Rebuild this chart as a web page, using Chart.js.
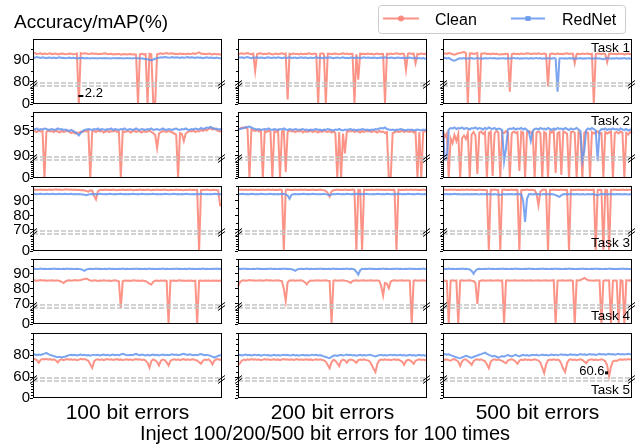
<!DOCTYPE html>
<html>
<head>
<meta charset="utf-8">
<script src="https://cdn.jsdelivr.net/npm/chart.js@4.4.1/dist/chart.umd.min.js"></script>
<style>
  body { margin: 0; background: #fff; }
  #page { position: relative; width: 643px; height: 445px; overflow: hidden; background: #fff; }
  #page canvas { position: absolute; }
  #overlay { position: absolute; left: 0; top: 0; }
</style>
</head>
<body>
<div id="page">
  <svg id="overlay" width="643" height="445" xmlns="http://www.w3.org/2000/svg"></svg>
</div>
<script>
// ---- data: accuracy per injection run (100 runs per cell) ----
const seriesNames = ["Clean", "RedNet"];
const tasks = ["Task 1", "Task 2", "Task 3", "Task 4", "Task 5"];
const errorLabels = ["100 bit errors", "200 bit errors", "500 bit errors"];
const titleText = "Accuracy/mAP(%)";
const bottomText = "Inject 100/200/500 bit errors for 100 times";

const clean_t1_100 = [
  92.9, 93.1, 92.7, 92.8, 93.0, 92.6, 92.9, 92.7, 92.8, 93.0,
  92.6, 92.8, 92.9, 92.5, 92.7, 92.9, 92.8, 92.6, 92.7, 92.9,
  92.8, 92.6, 92.7, 92.9, 2.2, 93.1, 92.8, 93.0, 92.9, 92.7,
  92.8, 93.0, 92.7, 92.9, 92.6, 92.8, 92.7, 92.9, 93.0, 92.6,
  92.7, 92.8, 92.5, 92.7, 92.6, 92.8, 92.4, 92.6, 92.7, 92.5,
  92.6, 92.7, 92.5, 92.6, 92.4, 0.0, 92.6, 92.8, 92.5, 92.7,
  0.0, 92.8, 92.6, 1.0, 0.0, 92.6, 92.8, 93.0, 92.7, 92.9,
  93.1, 92.8, 92.9, 93.0, 92.7, 92.8, 92.6, 92.9, 92.7, 92.8,
  92.6, 92.9, 92.7, 92.8, 93.0, 92.7, 93.1, 93.4, 92.9, 92.7,
  92.8, 92.6, 92.9, 92.7, 92.5, 92.8, 92.6, 92.7, 92.5, 92.6];
const rednet_t1_100 = [
  91.2, 91.0, 91.3, 91.1, 90.9, 91.2, 91.0, 90.8, 91.1, 91.0,
  90.9, 91.1, 90.8, 91.0, 91.2, 90.9, 91.0, 90.8, 90.9, 91.1,
  90.8, 91.0, 90.9, 90.7, 90.9, 90.8, 91.0, 90.7, 90.9, 90.8,
  90.6, 90.9, 90.7, 90.8, 90.6, 90.9, 90.7, 90.8, 90.9, 90.7,
  90.8, 90.6, 90.9, 90.7, 90.8, 90.9, 90.7, 90.8, 90.6, 90.9,
  90.7, 90.8, 90.6, 90.9, 90.7, 90.8, 90.6, 90.7, 90.5, 90.4,
  90.3, 90.1, 89.9, 90.2, 90.5, 90.8, 91.0, 91.2, 91.1, 91.3,
  91.2, 91.0, 91.1, 91.3, 91.0, 91.2, 91.1, 90.9, 91.2, 91.0,
  91.1, 91.3, 91.0, 91.2, 91.1, 90.9, 91.2, 91.0, 91.1, 90.8,
  91.0, 91.2, 90.9, 91.1, 91.0, 90.8, 91.1, 90.9, 90.7, 90.8];
const clean_t1_200 = [
  92.4, 92.8, 93.0, 92.7, 92.9, 93.1, 92.8, 92.6, 92.9, 85.0,
  92.7, 92.9, 93.0, 92.6, 92.8, 92.7, 93.0, 92.8, 92.5, 92.7,
  92.9, 92.6, 92.8, 93.0, 92.7, 92.9, 20.0, 92.8, 92.6, 92.9,
  92.7, 92.8, 92.5, 92.9, 92.6, 92.8, 92.7, 93.0, 92.8, 92.6,
  92.9, 92.7, 0.0, 92.8, 93.0, 92.7, 0.0, 92.9, 92.8, 92.6,
  92.8, 92.9, 92.7, 92.6, 92.8, 93.0, 92.7, 92.9, 92.6, 92.8,
  92.7, 5.0, 92.6, 81.0, 92.9, 92.7, 92.8, 92.6, 92.9, 92.7,
  92.8, 92.5, 92.7, 92.9, 92.6, 92.8, 92.7, 4.0, 92.8, 92.6,
  92.9, 92.7, 92.8, 93.0, 92.8, 92.6, 92.9, 92.7, 85.5, 92.8,
  93.0, 92.7, 92.9, 88.5, 92.8, 92.6, 92.9, 92.7, 92.8, 92.6];
const rednet_t1_200 = [
  91.3, 91.0, 91.2, 90.9, 91.1, 91.3, 91.0, 90.8, 91.1, 91.0,
  91.2, 90.9, 91.1, 91.0, 90.8, 91.1, 91.2, 90.9, 91.0, 91.1,
  90.9, 91.2, 91.0, 90.8, 91.1, 90.9, 91.0, 91.2, 90.9, 91.0,
  91.1, 90.8, 91.0, 91.2, 90.9, 91.1, 91.0, 90.8, 91.1, 90.9,
  91.0, 91.2, 90.9, 91.1, 90.8, 91.0, 91.1, 90.9, 91.2, 91.0,
  90.8, 91.0, 91.1, 90.9, 91.0, 91.2, 90.9, 91.0, 90.8, 91.1,
  91.0, 90.9, 91.1, 91.0, 90.8, 91.0, 91.2, 90.9, 91.1, 91.0,
  90.9, 91.1, 91.0, 90.8, 91.0, 91.1, 90.9, 91.2, 91.0, 90.9,
  91.1, 91.0, 90.8, 91.0, 91.1, 90.9, 91.0, 90.8, 91.0, 90.9,
  91.1, 90.9, 90.8, 91.0, 90.7, 90.9, 90.6, 90.8, 90.5, 90.6];
const clean_t1_500 = [
  92.8, 93.0, 92.7, 93.1, 92.9, 92.6, 92.4, 92.7, 93.0, 93.2,
  93.4, 93.6, 93.1, 0.0, 92.9, 93.0, 92.7, 92.9, 93.1, 0.0,
  92.8, 92.9, 93.0, 92.7, 92.8, 92.6, 92.9, 92.7, 92.8, 92.6,
  92.5, 92.7, 92.6, 92.8, 92.7, 54.0, 92.6, 92.9, 92.7, 92.8,
  92.6, 92.9, 92.7, 92.8, 93.0, 92.9, 92.7, 92.8, 92.9, 92.7,
  93.0, 92.8, 92.7, 92.9, 92.6, 78.0, 92.7, 92.9, 92.8, 92.6,
  92.9, 92.7, 92.8, 92.6, 92.9, 93.0, 92.7, 92.8, 92.9, 88.5,
  92.7, 92.8, 92.6, 92.9, 92.7, 92.8, 92.9, 92.6, 92.8, 0.0,
  92.7, 92.9, 92.8, 92.6, 92.9, 92.7, 89.0, 92.8, 92.9, 92.7,
  92.8, 92.6, 92.9, 92.7, 92.8, 92.5, 92.7, 92.9, 92.6, 92.8];
const rednet_t1_500 = [
  90.8, 91.0, 90.7, 90.9, 90.4, 89.8, 89.6, 90.0, 90.5, 90.7,
  90.6, 90.8, 90.5, 90.7, 90.6, 90.8, 90.5, 90.7, 90.9, 90.6,
  90.7, 90.5, 90.8, 90.6, 90.7, 90.9, 90.6, 90.8, 90.5, 90.7,
  90.6, 90.8, 90.7, 90.5, 90.8, 90.6, 90.7, 90.9, 90.6, 90.8,
  90.5, 90.7, 90.6, 90.8, 90.7, 90.5, 90.8, 90.6, 90.7, 90.9,
  90.6, 90.8, 90.5, 90.7, 90.6, 90.8, 90.7, 90.5, 90.8, 90.6,
  54.0, 90.7, 90.8, 90.6, 90.7, 90.5, 90.8, 90.6, 90.7, 90.4,
  90.7, 90.6, 90.8, 90.5, 90.7, 90.6, 90.8, 90.7, 90.5, 90.6,
  90.8, 90.6, 90.7, 90.5, 90.3, 90.6, 90.8, 90.7, 90.5, 90.7,
  90.6, 90.8, 90.5, 90.7, 90.6, 90.8, 90.5, 90.7, 90.6, 90.4];

const clean_t2_100 = [
  94.9, 95.0, 94.8, 95.1, 94.9, 95.0, 0.0, 94.8, 95.1, 94.9,
  95.0, 94.8, 95.1, 94.9, 94.7, 95.0, 94.8, 94.9, 95.1, 94.8,
  94.6, 94.8, 94.5, 94.7, 94.6, 94.9, 94.8, 95.0, 94.9, 95.1,
  0.0, 94.9, 95.0, 94.8, 95.1, 94.9, 95.0, 94.7, 94.9, 95.0,
  94.8, 95.0, 94.9, 95.1, 94.8, 94.9, 0.0, 95.0, 94.8, 94.9,
  95.0, 94.7, 94.9, 95.1, 94.8, 95.0, 94.9, 94.7, 95.0, 94.8,
  94.9, 95.1, 94.8, 94.6, 94.2, 91.6, 94.5, 94.8, 95.0, 94.9,
  94.8, 95.0, 94.9, 94.7, 94.5, 94.3, 0.0, 94.6, 94.4, 93.0,
  94.5, 94.8, 95.0, 94.9, 95.1, 94.8, 95.0, 94.9, 95.2, 95.0,
  95.3, 95.1, 95.4, 95.6, 95.3, 95.5, 95.2, 95.0, 94.9, 95.1];
const rednet_t2_100 = [
  95.4, 95.3, 95.5, 95.2, 95.4, 95.3, 95.5, 95.4, 95.2, 95.3,
  95.4, 95.2, 95.3, 95.5, 95.3, 95.4, 95.2, 95.3, 95.1, 95.0,
  95.2, 95.0, 94.8, 94.5, 94.1, 94.6, 95.0, 95.2, 95.3, 95.4,
  95.3, 95.2, 95.4, 95.3, 95.5, 95.2, 95.4, 95.3, 95.2, 95.4,
  95.3, 95.5, 95.2, 95.4, 95.3, 95.2, 95.4, 95.3, 95.5, 95.2,
  95.3, 95.4, 95.2, 95.3, 95.5, 95.3, 95.2, 95.4, 95.3, 95.2,
  95.4, 95.3, 95.5, 95.2, 95.3, 95.4, 95.2, 95.3, 95.5, 95.3,
  95.2, 95.4, 95.3, 95.2, 95.4, 95.5, 95.3, 95.2, 95.4, 95.3,
  95.5, 95.3, 95.2, 95.4, 95.3, 95.5, 95.4, 95.3, 95.6, 95.4,
  95.5, 95.7, 95.6, 95.8, 95.6, 95.4, 95.5, 95.3, 95.4, 95.2];
const clean_t2_200 = [
  95.2, 95.5, 95.7, 95.6, 95.8, 95.4, 0.0, 95.3, 95.1, 95.0,
  95.2, 94.9, 95.1, 0.0, 95.0, 94.8, 95.1, 94.9, 0.0, 95.0,
  94.8, 95.1, 0.0, 94.9, 95.0, 30.0, 94.8, 95.1, 94.9, 95.0,
  94.8, 95.0, 94.9, 95.1, 94.7, 95.0, 94.8, 94.9, 95.1, 94.8,
  95.0, 94.9, 94.7, 95.0, 94.8, 95.1, 94.9, 94.8, 95.0, 94.7,
  94.9, 94.6, 0.0, 94.8, 0.0, 94.5, 90.5, 94.8, 95.0, 94.9,
  95.1, 94.8, 95.0, 94.9, 94.7, 95.0, 94.8, 95.1, 94.9, 95.0,
  94.8, 95.0, 94.9, 94.7, 95.0, 94.8, 94.9, 94.6, 94.8, 0.0,
  0.0, 94.6, 94.7, 95.0, 94.8, 94.9, 95.1, 94.8, 95.0, 94.9,
  94.8, 95.0, 94.7, 94.9, 0.0, 94.8, 0.0, 94.9, 95.0, 94.8];
const rednet_t2_200 = [
  95.3, 95.4, 95.5, 95.6, 95.7, 95.8, 95.9, 95.7, 95.5, 95.4,
  95.3, 95.4, 95.2, 95.3, 95.4, 95.3, 95.5, 95.3, 95.2, 95.4,
  95.3, 95.2, 95.4, 95.3, 95.5, 95.3, 95.2, 95.4, 95.3, 95.2,
  95.4, 95.3, 95.2, 95.3, 95.4, 95.2, 95.3, 95.1, 95.3, 95.2,
  95.3, 95.4, 95.2, 95.3, 95.1, 95.3, 95.2, 95.4, 95.3, 95.2,
  95.1, 95.3, 95.2, 95.4, 95.2, 95.1, 95.3, 95.2, 95.3, 95.4,
  95.2, 95.3, 95.1, 95.3, 95.2, 95.4, 95.3, 95.2, 95.3, 95.1,
  95.3, 95.2, 95.4, 95.3, 95.5, 95.6, 95.5, 95.7, 95.4, 95.3,
  95.2, 95.3, 95.1, 95.3, 95.2, 95.4, 95.3, 95.2, 95.1, 95.3,
  95.2, 95.3, 95.1, 95.2, 95.3, 95.2, 95.1, 95.3, 95.2, 95.3];
const clean_t2_500 = [
  95.0, 93.8, 94.5, 0.0, 93.5, 92.6, 94.2, 93.0, 94.4, 0.0,
  93.6, 94.1, 93.4, 94.6, 0.0, 94.3, 94.8, 94.1, 20.0, 94.7,
  94.9, 94.4, 94.8, 0.0, 94.6, 94.9, 10.0, 94.5, 95.0, 94.7,
  0.0, 94.8, 94.6, 95.0, 94.7, 0.0, 94.5, 94.9, 94.6, 94.8,
  35.0, 94.9, 94.7, 0.0, 94.8, 95.0, 94.6, 94.9, 0.0, 94.7,
  94.9, 94.6, 0.0, 94.8, 94.5, 0.0, 94.9, 94.7, 95.0, 25.0,
  94.6, 94.8, 15.0, 94.9, 94.7, 94.5, 0.0, 94.8, 94.9, 94.6,
  0.0, 94.8, 94.5, 0.0, 94.7, 94.9, 94.6, 0.0, 94.8, 94.5,
  94.7, 94.9, 94.4, 94.6, 5.0, 94.8, 94.5, 94.7, 94.9, 0.0,
  94.6, 94.8, 94.5, 94.9, 94.7, 0.0, 94.6, 94.3, 94.8, 94.5];
const rednet_t2_500 = [
  95.2, 89.5, 89.6, 95.3, 95.6, 95.5, 95.7, 95.4, 95.6, 95.5,
  95.7, 95.4, 95.6, 95.5, 95.3, 95.6, 95.5, 95.7, 95.4, 95.6,
  95.5, 95.3, 95.6, 95.4, 95.7, 95.5, 95.4, 95.6, 95.3, 95.5,
  95.4, 95.2, 83.0, 91.5, 95.3, 95.5, 95.4, 95.6, 95.3, 95.5,
  95.4, 95.6, 95.3, 95.5, 95.2, 94.8, 93.0, 95.0, 95.4, 95.5,
  95.3, 95.6, 95.4, 95.5, 95.3, 95.6, 95.4, 95.2, 95.5, 95.3,
  95.6, 95.4, 95.5, 95.3, 95.6, 95.4, 95.2, 95.5, 95.3, 95.4,
  95.6, 95.3, 95.0, 86.5, 91.0, 95.2, 95.5, 95.3, 95.6, 95.4,
  95.1, 83.5, 95.0, 95.4, 95.3, 95.5, 95.2, 95.4, 95.3, 95.5,
  95.3, 95.4, 95.2, 95.5, 95.3, 95.2, 95.4, 95.1, 95.3, 95.2];

const clean_t3_100 = [
  97.6, 97.8, 97.5, 97.7, 97.9, 97.6, 97.8, 97.5, 97.7, 97.9,
  97.6, 97.8, 98.0, 97.7, 97.9, 97.6, 97.8, 98.1, 97.9, 97.7,
  97.9, 97.6, 97.8, 97.5, 97.7, 97.4, 97.6, 97.2, 96.8, 96.4,
  97.4, 97.2, 93.5, 91.0, 96.8, 97.5, 97.7, 97.5, 97.8, 97.6,
  97.7, 97.5, 97.8, 97.6, 97.4, 97.7, 97.5, 97.8, 97.6, 97.7,
  97.5, 97.8, 97.6, 97.4, 97.7, 97.5, 97.8, 97.6, 97.7, 97.5,
  97.8, 97.6, 97.4, 97.7, 97.5, 97.8, 97.6, 97.7, 97.5, 97.8,
  97.6, 97.4, 97.7, 97.5, 97.6, 97.8, 97.5, 97.7, 97.6, 97.4,
  97.7, 97.5, 97.8, 97.6, 97.7, 97.5, 97.6, 0.0, 97.5, 97.7,
  97.5, 97.8, 97.6, 97.4, 97.7, 97.5, 97.6, 97.3, 87.0, 86.8];
const rednet_t3_100 = [
  94.8, 94.9, 94.7, 94.8, 95.0, 94.8, 94.7, 94.9, 94.8, 94.7,
  94.9, 94.8, 94.6, 94.8, 94.9, 94.7, 94.8, 94.9, 94.7, 94.8,
  94.9, 94.7, 94.8, 94.6, 94.8, 94.7, 94.5, 94.3, 94.0, 94.4,
  94.7, 94.8, 94.6, 94.8, 94.7, 94.9, 94.8, 94.6, 94.8, 94.7,
  94.9, 94.8, 94.7, 94.8, 94.6, 94.8, 94.9, 94.7, 94.8, 94.6,
  94.8, 94.7, 94.9, 94.8, 94.6, 94.8, 94.7, 94.9, 94.8, 94.7,
  94.8, 94.6, 94.8, 94.9, 94.7, 94.8, 94.6, 94.8, 94.7, 94.9,
  94.8, 94.7, 94.6, 94.8, 94.9, 94.7, 94.8, 94.6, 94.8, 94.7,
  94.9, 94.8, 94.6, 94.7, 94.8, 94.6, 94.8, 94.7, 94.9, 94.8,
  94.7, 94.8, 94.6, 94.8, 94.7, 94.9, 94.8, 94.6, 94.7, 94.8];
const clean_t3_200 = [
  97.5, 97.7, 97.9, 97.6, 97.8, 97.5, 97.7, 97.9, 97.6, 97.8,
  97.5, 97.7, 97.6, 97.8, 97.5, 97.7, 97.9, 97.6, 97.8, 97.5,
  97.7, 97.6, 97.8, 97.5, 0.0, 97.6, 97.8, 97.5, 97.7, 97.6,
  97.8, 97.5, 97.7, 97.9, 97.6, 97.8, 97.5, 97.7, 97.6, 97.8,
  97.5, 97.7, 97.6, 97.8, 97.5, 97.3, 97.0, 95.5, 93.0, 96.5,
  97.4, 97.6, 97.8, 97.5, 97.7, 97.6, 97.8, 97.5, 97.7, 97.6,
  97.8, 97.5, 0.0, 97.7, 97.6, 0.0, 97.8, 97.5, 97.7, 97.6,
  97.8, 97.5, 97.7, 97.9, 97.6, 97.8, 97.5, 97.7, 97.6, 97.8,
  97.5, 97.7, 97.6, 0.0, 97.8, 97.5, 97.7, 97.6, 97.8, 97.5,
  97.7, 97.9, 97.6, 97.8, 97.5, 97.7, 97.6, 97.8, 97.5, 97.7];
const rednet_t3_200 = [
  94.8, 94.7, 94.9, 94.8, 94.6, 94.8, 94.7, 94.9, 94.8, 94.6,
  94.8, 94.7, 94.9, 94.8, 94.7, 94.6, 94.8, 94.9, 94.7, 94.8,
  94.6, 94.8, 94.7, 94.9, 94.8, 94.5, 93.8, 91.5, 94.2, 94.7,
  94.8, 94.6, 94.8, 94.7, 94.9, 94.8, 94.6, 94.8, 94.7, 94.9,
  94.8, 94.7, 94.6, 94.8, 94.7, 94.9, 94.6, 94.4, 94.0, 94.5,
  94.8, 94.7, 94.9, 94.8, 94.6, 94.8, 94.7, 94.9, 94.8, 94.6,
  94.8, 94.7, 94.9, 94.8, 94.6, 94.8, 94.7, 94.9, 94.8, 94.7,
  94.6, 94.8, 94.7, 94.9, 94.8, 94.6, 94.8, 94.7, 94.9, 94.8,
  94.7, 94.6, 94.8, 94.7, 94.9, 94.8, 94.6, 94.8, 94.7, 94.9,
  94.8, 94.6, 94.8, 94.7, 94.9, 94.8, 94.7, 94.6, 94.8, 94.7];
const clean_t3_500 = [
  97.6, 97.8, 97.5, 97.7, 97.9, 97.6, 97.8, 97.5, 97.7, 97.6,
  97.8, 97.5, 97.7, 97.9, 97.6, 97.8, 97.5, 97.7, 97.6, 97.8,
  97.5, 97.7, 97.6, 97.4, 0.0, 97.7, 97.5, 97.8, 97.6, 97.4,
  0.0, 97.6, 97.8, 97.5, 97.7, 97.6, 97.8, 97.5, 97.7, 97.6,
  0.0, 97.5, 97.7, 97.6, 97.8, 97.5, 97.7, 97.6, 97.4, 95.0,
  87.0, 96.5, 97.6, 97.8, 97.5, 0.0, 97.7, 97.6, 97.8, 97.5,
  97.7, 97.6, 97.8, 97.5, 97.7, 97.6, 0.0, 97.8, 97.5, 97.7,
  97.6, 97.8, 97.5, 97.7, 97.6, 97.8, 97.5, 97.7, 97.6, 97.8,
  0.0, 97.5, 97.7, 97.6, 0.0, 97.8, 97.5, 0.0, 97.7, 97.6,
  97.8, 97.5, 97.7, 97.6, 97.8, 97.5, 97.7, 97.6, 97.8, 97.5];
const rednet_t3_500 = [
  94.9, 94.7, 94.8, 94.6, 94.8, 94.7, 94.9, 94.6, 94.8, 94.7,
  94.5, 94.7, 94.6, 94.8, 94.5, 94.7, 94.6, 94.8, 94.7, 94.5,
  94.7, 94.6, 94.8, 94.5, 94.7, 94.6, 94.4, 94.7, 94.5, 94.6,
  94.2, 94.6, 94.8, 94.5, 94.7, 94.6, 94.8, 94.5, 94.7, 94.6,
  94.8, 94.5, 90.0, 75.5, 91.5, 94.6, 94.7, 94.5, 94.8, 94.6,
  94.7, 94.5, 94.6, 94.8, 94.5, 94.7, 94.6, 94.8, 94.5, 94.0,
  93.4, 92.8, 94.0, 94.6, 94.8, 94.5, 94.7, 94.6, 94.8, 94.5,
  94.7, 94.6, 94.4, 94.7, 94.5, 94.6, 94.8, 94.5, 94.7, 94.6,
  94.3, 94.0, 94.5, 94.7, 94.6, 94.8, 94.5, 94.7, 94.6, 94.8,
  94.5, 94.7, 94.6, 94.8, 94.5, 94.7, 94.6, 94.4, 94.6, 94.7];

const clean_t4_100 = [
  85.6, 85.8, 85.5, 85.7, 85.9, 85.6, 85.8, 85.5, 85.7, 85.6,
  85.8, 85.5, 85.7, 85.6, 85.3, 84.8, 84.0, 85.0, 85.6, 85.8,
  85.5, 85.7, 85.9, 85.6, 85.8, 86.0, 86.3, 86.6, 87.0, 86.2,
  85.7, 85.5, 85.8, 85.6, 85.4, 85.7, 85.5, 85.8, 85.6, 85.5,
  85.7, 85.4, 85.6, 85.8, 85.5, 85.0, 69.0, 85.2, 85.6, 85.5,
  85.7, 85.4, 85.6, 85.8, 85.5, 85.7, 85.4, 85.6, 85.5, 85.2,
  84.5, 83.5, 83.0, 84.8, 85.5, 85.7, 85.4, 85.6, 85.5, 85.7,
  85.4, 0.0, 85.6, 85.5, 85.7, 85.4, 85.6, 85.8, 85.5, 85.7,
  85.4, 85.6, 85.5, 85.7, 85.4, 85.6, 0.0, 85.5, 85.7, 85.4,
  85.6, 85.5, 85.7, 85.4, 85.6, 85.5, 85.7, 85.4, 85.6, 85.5];
const rednet_t4_100 = [
  93.4, 93.5, 93.3, 93.4, 93.6, 93.3, 93.5, 93.4, 93.3, 93.5,
  93.4, 93.6, 93.3, 93.5, 93.4, 93.3, 93.5, 93.4, 93.6, 93.3,
  93.5, 93.4, 93.3, 93.5, 93.4, 93.2, 92.7, 92.1, 93.0, 93.4,
  93.5, 93.3, 93.4, 93.6, 93.3, 93.5, 93.4, 93.3, 93.5, 93.4,
  93.6, 93.3, 93.5, 93.4, 93.3, 93.5, 93.4, 93.6, 93.3, 93.5,
  93.4, 93.3, 93.5, 93.4, 93.6, 93.3, 93.5, 93.4, 93.3, 93.5,
  93.4, 93.6, 93.3, 93.5, 93.4, 93.3, 93.5, 93.4, 93.6, 93.3,
  93.5, 93.4, 93.3, 93.5, 93.4, 93.6, 93.3, 93.5, 93.4, 93.3,
  93.5, 93.4, 93.6, 93.3, 93.5, 93.4, 93.3, 93.5, 93.4, 93.6,
  93.3, 93.5, 93.4, 93.3, 93.5, 93.4, 93.6, 93.3, 93.5, 93.4];
const clean_t4_200 = [
  81.5, 84.5, 85.6, 85.8, 85.5, 85.7, 85.9, 85.6, 85.8, 85.5,
  85.7, 85.6, 85.8, 85.5, 85.7, 85.9, 85.6, 85.8, 85.5, 85.7,
  85.6, 85.8, 85.5, 85.3, 80.0, 72.0, 84.5, 85.7, 85.6, 85.8,
  85.5, 85.7, 85.6, 85.8, 85.4, 84.5, 83.0, 84.8, 85.6, 85.5,
  85.7, 85.6, 85.8, 85.5, 85.7, 85.6, 85.8, 85.5, 85.4, 0.0,
  85.6, 85.8, 85.5, 85.7, 85.6, 85.8, 85.5, 85.4, 84.8, 84.0,
  85.3, 85.6, 85.8, 85.5, 85.7, 85.6, 85.8, 85.5, 85.7, 85.6,
  85.8, 85.5, 85.7, 85.6, 85.4, 82.0, 75.5, 84.0, 83.5, 80.5,
  85.0, 85.6, 85.8, 85.5, 85.7, 85.6, 85.8, 85.5, 85.7, 85.6,
  85.5, 0.0, 85.6, 85.8, 85.5, 85.7, 85.6, 85.8, 85.5, 85.7];
const rednet_t4_200 = [
  93.3, 93.5, 93.4, 93.6, 93.3, 93.5, 93.4, 93.3, 93.5, 93.4,
  93.6, 93.3, 93.5, 93.4, 93.3, 93.5, 93.4, 93.6, 93.3, 93.5,
  93.4, 93.3, 93.5, 93.4, 93.6, 93.3, 93.5, 93.4, 93.2, 92.8,
  92.1, 93.0, 93.4, 93.5, 93.3, 93.4, 93.6, 93.3, 93.5, 93.4,
  93.3, 93.5, 93.4, 93.6, 93.3, 93.5, 93.4, 93.3, 93.5, 93.4,
  93.6, 93.3, 93.5, 93.4, 93.3, 93.5, 93.4, 93.6, 93.3, 93.5,
  93.4, 93.0, 91.5, 89.5, 92.5, 93.4, 93.3, 93.5, 93.4, 93.6,
  93.3, 93.5, 93.4, 93.3, 93.5, 93.4, 93.6, 93.3, 93.5, 93.4,
  93.3, 93.5, 93.4, 93.6, 93.3, 93.5, 93.4, 93.3, 93.5, 93.4,
  93.6, 93.3, 93.5, 93.4, 93.3, 93.5, 93.4, 93.6, 93.3, 93.5];
const clean_t4_500 = [
  85.5, 85.7, 85.4, 0.0, 85.6, 85.8, 85.5, 85.7, 0.0, 85.6,
  85.8, 85.5, 85.7, 85.6, 85.8, 85.5, 85.3, 84.0, 70.0, 85.2,
  85.6, 85.8, 85.5, 85.7, 85.6, 85.8, 85.5, 85.7, 85.6, 85.8,
  85.5, 85.7, 0.0, 85.6, 85.8, 85.5, 85.7, 85.6, 85.8, 85.5,
  85.7, 85.6, 85.8, 85.5, 85.7, 85.6, 85.8, 85.5, 85.7, 85.6,
  85.8, 85.5, 85.7, 85.6, 85.8, 85.5, 85.7, 85.6, 85.8, 0.0,
  85.5, 85.7, 85.6, 85.8, 85.5, 85.7, 85.6, 85.8, 85.5, 0.0,
  85.7, 85.6, 86.0, 86.5, 87.4, 86.6, 85.8, 85.6, 85.7, 85.5,
  85.8, 85.6, 85.7, 0.0, 85.5, 85.8, 85.6, 85.7, 0.0, 85.5,
  85.7, 85.6, 0.0, 85.8, 85.5, 0.0, 85.7, 85.6, 85.8, 85.5];
const rednet_t4_500 = [
  93.5, 93.3, 93.4, 93.6, 93.3, 93.5, 93.4, 93.3, 93.5, 93.4,
  93.6, 93.3, 93.5, 93.4, 93.0, 92.0, 90.2, 92.2, 93.2, 93.5,
  93.4, 93.3, 93.5, 93.4, 93.6, 93.3, 93.5, 93.4, 93.3, 93.5,
  93.4, 93.6, 93.3, 93.5, 93.4, 93.3, 93.5, 93.4, 93.6, 93.3,
  93.5, 93.4, 93.3, 93.5, 93.4, 93.6, 93.3, 93.5, 93.4, 93.3,
  93.5, 93.4, 93.6, 93.3, 93.5, 93.4, 93.3, 93.5, 93.4, 93.6,
  93.3, 93.5, 93.4, 93.3, 93.5, 93.4, 93.6, 93.3, 93.5, 93.4,
  93.3, 93.5, 93.4, 93.6, 93.3, 93.5, 93.4, 93.3, 93.5, 93.4,
  93.6, 93.3, 93.5, 93.4, 93.3, 93.5, 93.4, 93.6, 93.3, 93.5,
  93.4, 93.3, 93.5, 93.4, 93.6, 93.3, 93.5, 93.4, 93.3, 93.2];

const clean_t5_100 = [
  76.8, 76.2, 75.4, 73.0, 75.6, 76.4, 75.9, 76.6, 75.8, 76.3,
  75.5, 76.1, 75.0, 73.2, 75.4, 76.0, 75.3, 75.9, 76.4, 75.7,
  76.2, 75.5, 76.0, 75.2, 75.8, 76.5, 75.9, 76.3, 75.6, 74.8,
  71.5, 68.2, 74.0, 75.8, 76.2, 75.5, 76.0, 75.3, 75.9, 76.4,
  75.7, 76.1, 75.4, 75.9, 76.3, 75.6, 76.0, 75.2, 75.8, 76.2,
  75.5, 76.0, 75.3, 75.9, 76.4, 75.7, 76.1, 75.4, 75.8, 75.0,
  73.0, 68.5, 74.5, 75.9, 75.2, 73.5, 70.5, 74.8, 75.9, 75.3,
  73.4, 70.5, 74.6, 75.8, 76.2, 75.5, 76.0, 75.3, 75.9, 76.3,
  75.6, 76.1, 75.4, 75.9, 76.2, 75.5, 75.0, 73.5, 72.0, 74.8,
  75.9, 75.4, 76.0, 74.5, 71.5, 74.8, 75.9, 76.3, 75.6, 76.0];
const rednet_t5_100 = [
  80.2, 80.6, 79.8, 80.4, 80.0, 80.7, 81.2, 82.0, 80.8, 80.1,
  79.6, 79.0, 78.4, 78.0, 78.3, 77.8, 78.2, 78.6, 79.3, 79.9,
  80.2, 79.7, 80.1, 79.5, 80.0, 80.4, 79.8, 80.2, 79.6, 80.0,
  79.4, 79.9, 80.3, 79.7, 80.1, 79.5, 80.0, 80.4, 79.8, 80.2,
  79.6, 80.0, 80.5, 79.9, 80.3, 79.7, 80.6, 81.0, 80.4, 80.0,
  79.7, 80.2, 79.8, 80.5, 81.0, 80.3, 79.9, 80.4, 80.0, 79.6,
  80.1, 79.5, 80.0, 80.4, 79.8, 80.2, 79.6, 80.1, 80.5, 79.9,
  80.3, 79.8, 80.2, 80.6, 80.0, 80.4, 79.8, 80.2, 80.7, 81.1,
  80.5, 80.1, 80.6, 80.2, 79.8, 80.3, 79.9, 80.4, 80.8, 80.2,
  79.8, 80.3, 79.7, 79.2, 78.6, 77.6, 78.4, 79.3, 79.8, 79.5];
const clean_t5_200 = [
  71.0, 72.5, 74.8, 75.9, 75.3, 76.1, 75.6, 76.4, 75.8, 76.2,
  75.5, 76.0, 75.2, 75.8, 76.3, 75.7, 76.1, 75.4, 75.9, 76.2,
  75.6, 76.0, 75.3, 75.9, 76.4, 75.8, 76.2, 75.5, 76.0, 75.4,
  75.9, 76.3, 75.6, 76.1, 75.4, 75.9, 76.2, 75.6, 76.0, 75.3,
  75.8, 76.2, 75.5, 76.0, 75.6, 75.1, 74.0, 71.0, 68.0, 73.5,
  75.6, 74.8, 72.5, 70.0, 74.6, 75.8, 75.2, 73.0, 75.4, 75.9,
  75.5, 74.4, 73.0, 75.3, 75.9, 75.4, 76.0, 75.5, 75.1, 74.2,
  71.0, 67.5, 64.5, 72.0, 75.2, 75.8, 75.4, 76.0, 75.5, 75.9,
  75.3, 75.8, 76.2, 75.6, 75.9, 75.0, 73.8, 71.0, 74.5, 75.6,
  75.2, 74.0, 72.0, 74.8, 75.6, 76.0, 75.4, 75.9, 75.2, 75.6];
const rednet_t5_200 = [
  79.8, 80.2, 79.6, 80.0, 80.4, 79.8, 80.1, 79.5, 80.0, 80.3,
  79.7, 80.1, 79.4, 79.9, 80.3, 79.7, 80.0, 79.4, 79.8, 80.2,
  79.6, 80.0, 79.5, 79.9, 80.3, 79.7, 80.1, 79.5, 79.8, 80.2,
  79.6, 80.0, 79.4, 79.9, 80.2, 79.6, 80.0, 79.5, 79.9, 80.3,
  79.7, 80.1, 79.5, 79.9, 79.4, 78.8, 78.2, 77.6, 77.2, 78.4,
  79.3, 79.8, 79.2, 79.7, 80.1, 79.5, 79.9, 80.4, 79.8, 80.2,
  79.6, 80.0, 79.4, 79.8, 80.2, 79.6, 80.0, 79.5, 79.9, 80.3,
  79.7, 79.2, 78.6, 79.4, 79.9, 80.2, 79.6, 80.0, 79.5, 79.9,
  80.3, 79.7, 80.1, 79.5, 79.9, 80.2, 79.6, 80.0, 79.4, 79.8,
  80.2, 79.6, 79.9, 79.3, 79.8, 80.1, 79.5, 79.9, 79.4, 79.7];
const clean_t5_500 = [
  76.2, 75.6, 76.0, 75.3, 74.8, 75.9, 76.3, 75.2, 74.0, 70.0,
  74.2, 75.8, 76.1, 74.6, 73.0, 71.0, 74.5, 75.8, 76.2, 75.5,
  76.0, 75.2, 74.4, 71.5, 68.0, 73.8, 75.6, 76.1, 75.4, 75.9,
  75.3, 74.6, 73.5, 72.5, 75.0, 75.8, 76.2, 75.4, 74.2, 72.0,
  74.8, 75.9, 75.3, 76.0, 75.5, 75.9, 75.2, 75.7, 76.1, 75.6,
  75.0, 73.2, 68.5, 63.6, 71.5, 75.2, 75.9, 75.4, 76.0, 75.5,
  75.8, 75.2, 72.0, 67.5, 64.5, 72.8, 75.6, 76.1, 75.5, 75.9,
  75.3, 75.8, 76.2, 75.5, 74.0, 72.5, 75.1, 75.8, 76.2, 75.4,
  75.9, 75.3, 75.8, 76.1, 75.6, 74.5, 70.5, 60.6, 69.5, 74.2,
  75.0, 74.6, 75.5, 76.0, 75.6, 76.2, 75.8, 76.3, 75.9, 76.1];
const rednet_t5_500 = [
  80.4, 80.8, 80.2, 80.6, 79.9, 79.2, 78.5, 78.0, 77.4, 77.0,
  77.8, 78.6, 79.3, 78.8, 78.0, 77.5, 78.2, 79.0, 79.6, 80.3,
  80.8, 81.5, 82.2, 81.0, 80.1, 79.4, 78.6, 79.2, 78.4, 77.6,
  78.3, 79.1, 78.5, 79.4, 80.0, 79.3, 78.7, 79.5, 80.1, 79.4,
  78.8, 79.6, 80.2, 79.5, 80.0, 79.3, 79.8, 80.3, 79.7, 80.1,
  79.5, 79.9, 80.4, 79.8, 80.2, 79.6, 80.0, 80.5, 79.9, 80.3,
  79.7, 80.1, 80.6, 80.0, 80.4, 79.8, 80.2, 80.7, 80.1, 80.5,
  79.9, 80.3, 80.8, 80.2, 80.6, 80.0, 80.4, 80.9, 80.3, 80.7,
  80.1, 80.5, 81.0, 80.4, 80.8, 80.2, 80.6, 81.0, 80.5, 80.8,
  80.3, 80.7, 81.1, 80.5, 80.9, 80.4, 80.8, 81.2, 80.6, 80.9];

// axis per task: values at or below axisCut go to the compressed lower band
const axisCut = [79.5, 89.8, 69.3, 69.3, 59.1];
const axisMax = [99.5, 98.8, 100.3, 100, 100];
const majorTicks = [[0, 80, 90], [0, 90, 95], [0, 70, 80, 90], [0, 70, 80, 90], [0, 60, 80]];
const minorTicks = [
  [10, 20, 30, 40, 50, 60, 70, 85, 95],
  [10, 20, 30, 40, 50, 60, 70, 80, 91, 92, 93, 94, 96, 97, 98],
  [10, 20, 30, 40, 50, 60, 75, 85, 95, 100],
  [10, 20, 30, 40, 50, 60, 75, 85, 95, 100],
  [10, 20, 30, 40, 50, 65, 70, 75, 85, 90, 95, 100],
];
// labelled points: [task, column, series, run index]
const notes = [[0, 0, 0, 24], [4, 2, 0, 87]];

const series = [
  [[clean_t1_100, rednet_t1_100], [clean_t1_200, rednet_t1_200], [clean_t1_500, rednet_t1_500]],
  [[clean_t2_100, rednet_t2_100], [clean_t2_200, rednet_t2_200], [clean_t2_500, rednet_t2_500]],
  [[clean_t3_100, rednet_t3_100], [clean_t3_200, rednet_t3_200], [clean_t3_500, rednet_t3_500]],
  [[clean_t4_100, rednet_t4_100], [clean_t4_200, rednet_t4_200], [clean_t4_500, rednet_t4_500]],
  [[clean_t5_100, rednet_t5_100], [clean_t5_200, rednet_t5_200], [clean_t5_500, rednet_t5_500]],
];
const runs = clean_t1_100.map((v, i) => i + 1);

// ---- layout ----
const FONT = '"Liberation Sans", Arial, sans-serif';
const CLEAN = "rgba(250,128,114,0.85)";
const REDNET = "rgba(100,149,237,0.85)";
const colLeft = [33, 238, 443], colRight = [222, 427, 632];
const rowTop = [39, 112, 186, 259, 333], rowBottom = [104, 178, 251, 324, 398];
const lowPx = [18, 18, 17, 16, 17];
const GAP = 3, PADL = 32, PADT = 10, PADR = 6, PADB = 10;

// linear scale with a broken axis: lower band [0, cut], upper band [cut, max]
class BrokenScale extends Chart.LinearScale {
  static id = "broken";
  static defaults = {};
  getPixelForValue(v) {
    const b = this.options.brk;
    const lowTop = this.bottom - b.lowPx;
    const upBottom = lowTop - b.gapPx;
    if (v <= b.cut) return this.bottom - (v / b.cut) * b.lowPx;
    return upBottom - ((v - b.cut) / (b.upMax - b.cut)) * (upBottom - this.top);
  }
  getValueForPixel(p) {
    const b = this.options.brk;
    const lowTop = this.bottom - b.lowPx;
    const upBottom = lowTop - b.gapPx;
    if (p >= lowTop) return ((this.bottom - p) / b.lowPx) * b.cut;
    return b.cut + ((upBottom - p) / (upBottom - this.top)) * (b.upMax - b.cut);
  }
}
Chart.register(BrokenScale);

const cellDeco = {
  id: "cellDeco",
  afterDraw(chart, args, opts) {
    const { ctx, chartArea: a } = chart;
    const y = chart.scales.y;
    const b = y.options.brk;
    const yLow = a.bottom - b.lowPx;
    const yUp = yLow - b.gapPx;
    ctx.save();
    // break band
    ctx.strokeStyle = "#c4c4c4";
    ctx.lineWidth = 1.5;
    ctx.setLineDash([5, 2]);
    [yUp, yLow].forEach((yy) => {
      ctx.beginPath();
      ctx.moveTo(a.left, yy);
      ctx.lineTo(a.right, yy);
      ctx.stroke();
    });
    ctx.setLineDash([]);
    // frame
    ctx.strokeStyle = "#000";
    ctx.lineWidth = 1;
    ctx.strokeRect(a.left + 0.5, a.top + 0.5, a.right - a.left - 1, a.bottom - a.top - 1);
    // minor ticks and break marks
    ctx.beginPath();
    opts.minor.forEach((v) => {
      const p = Math.round(y.getPixelForValue(v)) + 0.5;
      ctx.moveTo(a.left - 2, p);
      ctx.lineTo(a.left, p);
    });
    [a.left + 0.5, a.right - 0.5].forEach((x) => {
      [yUp, yLow].forEach((yy) => {
        ctx.moveTo(x - 3.5, yy + 2.5);
        ctx.lineTo(x + 3.5, yy - 2.5);
      });
    });
    ctx.stroke();
    // value labels
    ctx.fillStyle = "#000";
    ctx.font = "13px " + FONT;
    ctx.textBaseline = "alphabetic";
    (opts.notes || []).forEach((n) => {
      const pt = chart.getDatasetMeta(n.ds).data[n.index];
      const text = String(chart.data.datasets[n.ds].data[n.index]);
      if (n.side === "right") {
        ctx.fillRect(pt.x - 0.5, pt.y - 8.5, 5, 2);
        ctx.textAlign = "left";
        ctx.fillText(text, pt.x + 6, pt.y - 6.5);
      } else {
        ctx.fillRect(pt.x - 4, pt.y - 5, 3, 3);
        ctx.textAlign = "right";
        ctx.fillText(text, pt.x - 4.5, pt.y - 1.5);
      }
    });
    ctx.restore();
  },
};

const page = document.getElementById("page");
const overlay = document.getElementById("overlay");

for (let r = 0; r < 5; r++) {
  for (let c = 0; c < 3; c++) {
    const w = colRight[c] - colLeft[c], h = rowBottom[r] - rowTop[r];
    const cv = document.createElement("canvas");
    cv.width = PADL + w + PADR;
    cv.height = PADT + h + PADB;
    cv.style.left = colLeft[c] - PADL + "px";
    cv.style.top = rowTop[r] - PADT + "px";
    cv.style.width = cv.width + "px";
    cv.style.height = cv.height + "px";
    page.insertBefore(cv, overlay);

    const cellNotes = notes
      .filter((n) => n[0] === r && n[1] === c)
      .map((n) => ({ ds: n[2], index: n[3], side: r === 0 ? "right" : "left" }));

    new Chart(cv, {
      type: "line",
      data: {
        labels: runs,
        datasets: [
          { label: seriesNames[0], data: series[r][c][0], borderColor: CLEAN, borderWidth: 2, pointRadius: 0, order: 1 },
          { label: seriesNames[1], data: series[r][c][1], borderColor: REDNET, borderWidth: 2, pointRadius: 0, order: 0 },
        ],
      },
      options: {
        responsive: false,
        animation: false,
        devicePixelRatio: 1,
        events: [],
        layout: { padding: { left: 0, top: PADT, right: PADR, bottom: PADB } },
        plugins: {
          legend: { display: false },
          tooltip: { enabled: false },
          cellDeco: { minor: minorTicks[r], notes: cellNotes },
        },
        scales: {
          x: { type: "category", display: false, offset: false },
          y: {
            type: "broken",
            min: 0,
            max: axisMax[r],
            brk: { cut: axisCut[r], upMax: axisMax[r], lowPx: lowPx[r], gapPx: GAP },
            afterBuildTicks: (s) => { s.ticks = majorTicks[r].map((v) => ({ value: v })); },
            afterFit: (s) => { s.width = PADL; s.paddingTop = 0; s.paddingBottom = 0; },
            border: { display: false },
            grid: { display: true, drawOnChartArea: false, drawTicks: true, tickLength: 3, tickColor: "#000", tickWidth: 1 },
            ticks: {
              autoSkip: false,
              padding: 0,
              color: "#000",
              font: { family: FONT, size: 15 },
              callback: (v) => (c === 0 ? String(v) : ""),
            },
          },
        },
      },
      plugins: [cellDeco],
    });
  }
}

// ---- texts and legend ----
const NS = "http://www.w3.org/2000/svg";
function svgEl(tag, attrs, text) {
  const el = document.createElementNS(NS, tag);
  for (const k in attrs) el.setAttribute(k, attrs[k]);
  if (text !== undefined) el.textContent = text;
  overlay.appendChild(el);
  return el;
}
const txt = { "font-family": FONT, fill: "#000" };

svgEl("text", { ...txt, x: 14, y: 27.5, "font-size": 19 }, titleText);

svgEl("rect", { x: 378.5, y: 5.5, width: 247, height: 28, rx: 3, fill: "#fff", stroke: "#cccccc" });
svgEl("line", { x1: 383, y1: 18.5, x2: 419, y2: 18.5, stroke: CLEAN, "stroke-width": 2 });
svgEl("circle", { cx: 401, cy: 18.5, r: 3, fill: CLEAN });
svgEl("text", { ...txt, x: 435, y: 24.5, "font-size": 16 }, seriesNames[0]);
svgEl("line", { x1: 511, y1: 18.5, x2: 545, y2: 18.5, stroke: REDNET, "stroke-width": 2 });
svgEl("rect", { x: 525.5, y: 16, width: 5, height: 5, fill: REDNET });
svgEl("text", { ...txt, x: 562, y: 24.5, "font-size": 16 }, seriesNames[1]);

const taskBase = [52, 125, 247, 320, 394];
tasks.forEach((t, r) => {
  svgEl("text", { ...txt, x: 630, y: taskBase[r], "font-size": 13.5, "text-anchor": "end" }, t);
});

errorLabels.forEach((t, c) => {
  svgEl("text", { ...txt, x: (colLeft[c] + colRight[c]) / 2, y: 418.5, "font-size": 21, "text-anchor": "middle" }, t);
});
svgEl("text", { ...txt, x: 325, y: 440, "font-size": 20, "text-anchor": "middle" }, bottomText);
</script>
</body>
</html>
